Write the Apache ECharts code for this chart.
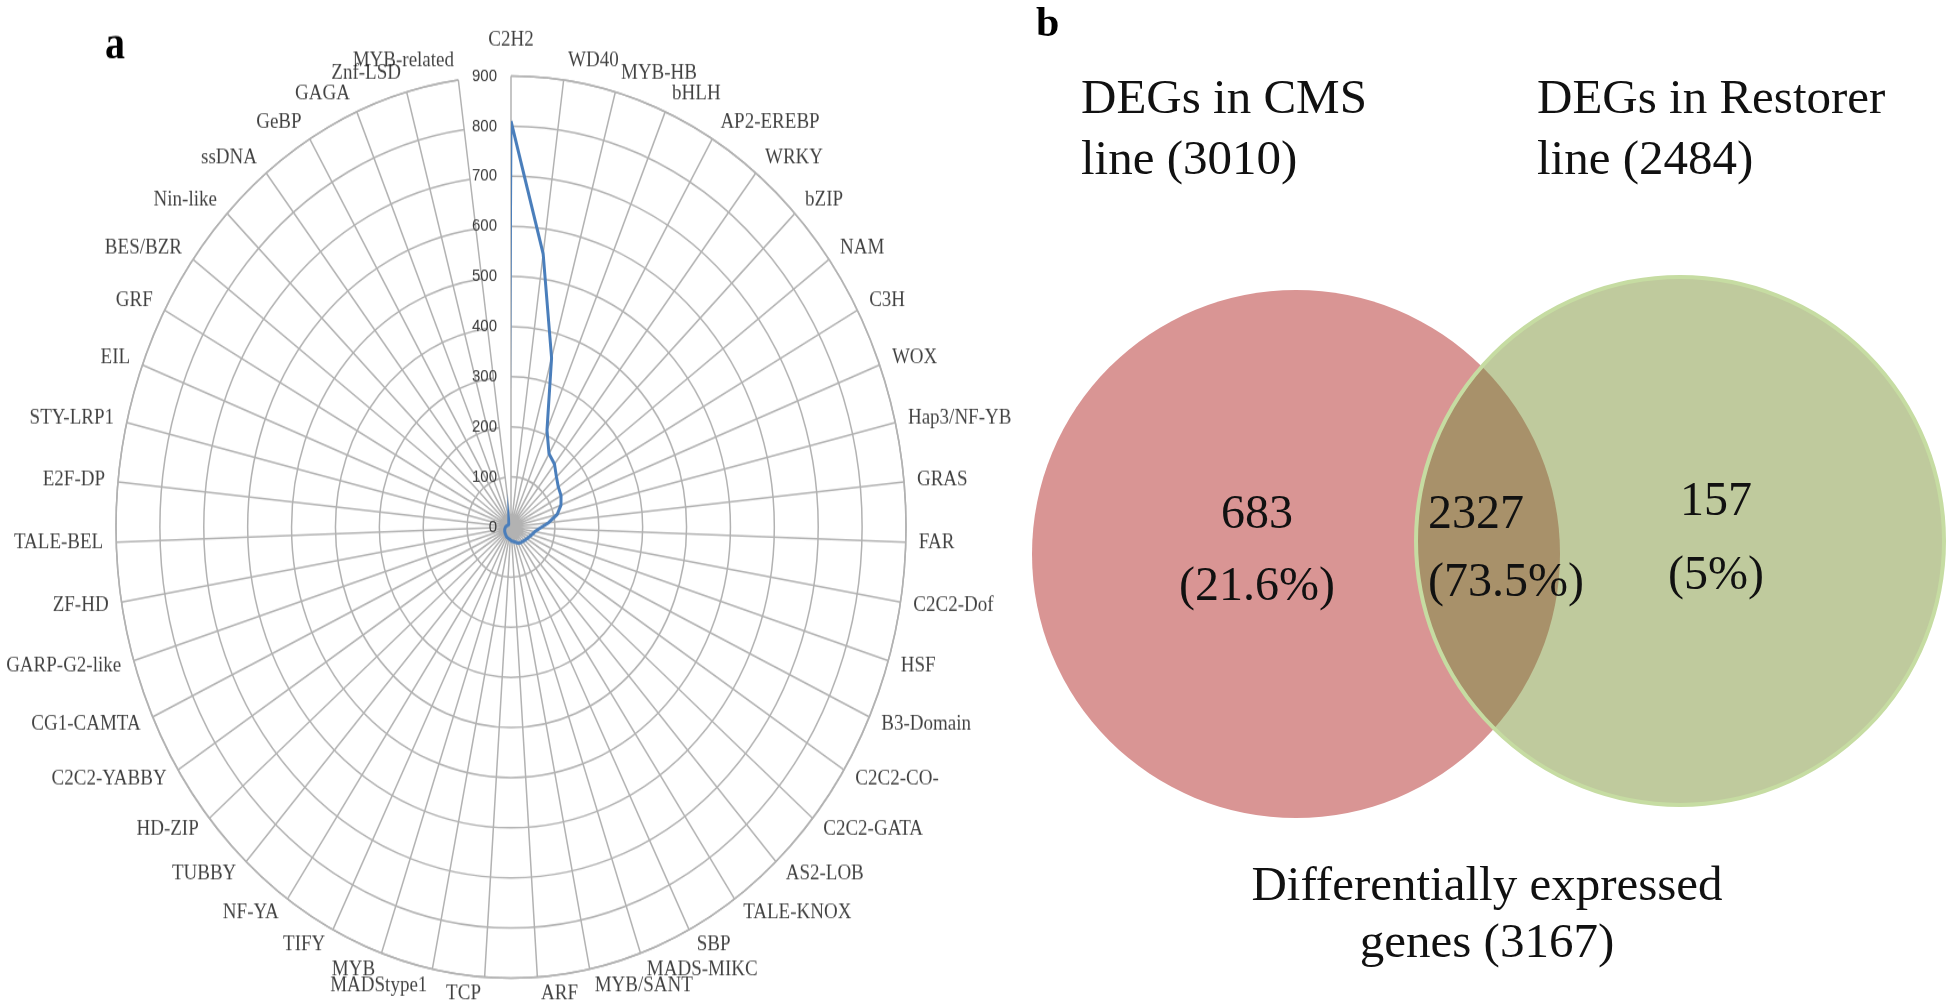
<!DOCTYPE html>
<html>
<head>
<meta charset="utf-8">
<title>TF families and DEG overlap</title>
<script src="https://cdn.jsdelivr.net/npm/echarts@6/dist/echarts.min.js"></script>
<style>
  html, body { margin: 0; padding: 0; background: #fff; }
  body { width: 1946px; height: 1005px; position: relative; overflow: hidden; }
  /* the original radar is stretched vertically, so the whole panel is */
  #radar { position: absolute; left: 0; top: 0; width: 1040px; height: 880px; transform: scaleY(1.142); transform-origin: 0 0; }
  #venn { position: absolute; left: 1000px; top: 0; width: 946px; height: 1005px; }
</style>
</head>
<body>
<div id="venn"></div>
<div id="radar"></div>
<script>
// panel a - TF families, clockwise from the top
var families = [
  'C2H2', 'WD40', 'MYB-HB', 'bHLH', 'AP2-EREBP', 'WRKY', 'bZIP', 'NAM', 'C3H', 'WOX',
  'Hap3/NF-YB', 'GRAS', 'FAR', 'C2C2-Dof', 'HSF', 'B3-Domain', 'C2C2-CO-', 'C2C2-GATA',
  'AS2-LOB', 'TALE-KNOX', 'SBP', 'MADS-MIKC', 'MYB/SANT', 'ARF', 'TCP', 'MADStype1', 'MYB',
  'TIFY', 'NF-YA', 'TUBBY', 'HD-ZIP', 'C2C2-YABBY', 'CG1-CAMTA', 'GARP-G2-like', 'ZF-HD',
  'TALE-BEL', 'E2F-DP', 'STY-LRP1', 'EIL', 'GRF', 'BES/BZR', 'Nin-like', 'ssDNA', 'GeBP',
  'GAGA', 'Znf-LSD', 'MYB-related'
];
var familyCounts = [
  810, 550, 350, 210, 170, 160, 144, 134, 130, 122,
  108, 86, 66, 55, 50, 46, 43, 41,
  39, 38, 36, 32, 30, 28, 25, 24, 23,
  22, 20, 19, 18, 17, 16, 15, 14,
  13, 12, 11, 10, 9, 8, 7, 6, 5,
  4, 3, 2
];
var radiusMax = 900;
var radiusStep = 100;

// panel b - venn
var setNames = ['DEGs in CMS\nline', 'DEGs in Restorer\nline'];
var setTotals = [3010, 2484];
var regionCounts = [683, 2327, 157];        // CMS only, shared, Restorer only
var regionShares = ['21.6%', '73.5%', '5%'];
var unionName = 'Differentially expressed\ngenes';
var unionTotal = 3167;

var gridGray = '#b2b2b2';

// category labels placed like the spreadsheet did: beside the spoke end, not centred on it
function familyLabelItem(name, k) {
  var t = k * 2 * Math.PI / families.length;
  var s = Math.sin(t), c = Math.cos(t);
  var onTop = Math.abs(s) < 0.05;
  var align = onTop ? 'center' : (s > 0 ? 'left' : 'right');
  var dx = onTop ? 0 : (s > 0 ? 1 : -1) * (3 + 10 * Math.abs(s));
  var dy = c > 0 ? -17.5 * c : -14.9 * c;
  if (onTop && c > 0) dy = -31;
  return {
    value: [radiusMax, name],
    label: { align: align, verticalAlign: 'middle', offset: [dx, dy] }
  };
}

var radarChart = echarts.init(document.getElementById('radar'));
var linePoints = families.map(function (f, i) { return [familyCounts[i], f]; });
linePoints.push([familyCounts[0], families[0]]);

radarChart.setOption({
  animation: false,
  polar: { center: [511, 461.5], radius: 395 },
  angleAxis: {
    type: 'category',
    data: families,
    startAngle: 90,
    clockwise: true,
    boundaryGap: false,
    axisLine: { lineStyle: { color: gridGray, width: 1.5 } },
    axisTick: { show: false, interval: 0 },
    axisLabel: { show: false, interval: 0 },
    splitLine: { show: true, interval: 0, lineStyle: { color: gridGray, width: 1.5 } }
  },
  radiusAxis: {
    type: 'value',
    min: 0,
    max: radiusMax,
    interval: radiusStep,
    axisLine: { show: false },
    axisTick: { show: false },
    axisLabel: { margin: 14, fontFamily: 'Liberation Sans', fontSize: 15, color: '#3a3a3a' },
    splitLine: { show: true, lineStyle: { color: gridGray, width: 1.5 } }
  },
  series: [
    {
      type: 'line',
      coordinateSystem: 'polar',
      data: linePoints,
      symbol: 'none',
      z: 5,
      lineStyle: { color: '#4A7EBB', width: 3 }
    },
    {
      // family names at the rim
      type: 'scatter',
      coordinateSystem: 'polar',
      silent: true,
      symbolSize: 1,
      itemStyle: { color: 'rgba(0,0,0,0)' },
      label: {
        show: true,
        position: 'inside',
        formatter: function (p) { return p.value[1]; },
        fontFamily: 'Liberation Serif',
        fontSize: 19,
        color: '#111'
      },
      data: families.map(familyLabelItem)
    }
  ],
  graphic: [{
    type: 'text', x: 105, y: 41,
    style: { text: 'a', font: 'bold 40px "Liberation Serif"', fill: '#000', verticalAlign: 'middle' }
  }]
});

// venn layout in pixels of the right panel (drawing only, not data)
var vennCircles = [
  { cx: 296, cy: 554, r: 264 },
  { cx: 680, cy: 541, r: 264 }
];
var vennLabelPos = [
  { x: 257, y: 551, align: 'center', lh: 72 },
  { x: 428, y: 549, align: 'left', lh: 68 },
  { x: 716, y: 539, align: 'center', lh: 74 }
];

function renderRegion(params, api) {
  var idx = params.dataIndex;
  function circ(c) {
    var p = api.coord([c.cx, c.cy]);
    return { cx: p[0], cy: p[1], r: api.size([c.r, 0])[0] };
  }
  var ca = circ(vennCircles[0]);
  var cb = circ(vennCircles[1]);
  var lab = vennLabelPos[idx];
  var lp = api.coord([lab.x, lab.y]);
  var children = [];
  if (idx === 0) {
    children.push({ type: 'circle', z2: 1, shape: ca, style: { fill: '#D99594' } });
  } else if (idx === 2) {
    children.push({ type: 'circle', z2: 2, shape: cb, style: { fill: '#BFCA9D' } });
  } else {
    children.push({ type: 'circle', z2: 3, shape: ca, style: { fill: '#A8916A' }, clipPath: { type: 'circle', shape: cb } });
    children.push({ type: 'circle', z2: 4, shape: cb, style: { fill: null, stroke: '#C6DCA2', lineWidth: 4 } });
  }
  children.push({
    type: 'text', z2: 10, x: lp[0], y: lp[1],
    style: {
      text: api.value(1) + '\n(' + regionShares[idx] + ')',
      fill: '#111', font: '48px "Liberation Serif"',
      align: lab.align, verticalAlign: 'middle', lineHeight: lab.lh
    }
  });
  return { type: 'group', children: children };
}

var vennChart = echarts.init(document.getElementById('venn'));
var titleFont = '49px "Liberation Serif"';
vennChart.setOption({
  animation: false,
  grid: { left: 0, right: 0, top: 0, bottom: 0 },
  xAxis: { type: 'value', min: 0, max: 946, show: false },
  yAxis: { type: 'value', min: 0, max: 1005, inverse: true, show: false },
  series: [{
    type: 'custom',
    renderItem: renderRegion,
    data: regionCounts.map(function (v, i) { return [i, v]; })
  }],
  graphic: [
    { type: 'text', x: 36, y: 25, style: { text: 'b', font: 'bold 42px "Liberation Serif"', fill: '#000', verticalAlign: 'middle' } },
    { type: 'text', x: 81, y: 131, style: { text: setNames[0] + ' (' + setTotals[0] + ')', font: titleFont, fill: '#111', lineHeight: 61, verticalAlign: 'middle' } },
    { type: 'text', x: 537, y: 131, style: { text: setNames[1] + ' (' + setTotals[1] + ')', font: titleFont, fill: '#111', lineHeight: 61, verticalAlign: 'middle' } },
    { type: 'text', x: 487, y: 916, style: { text: unionName + ' (' + unionTotal + ')', font: titleFont, fill: '#111', lineHeight: 57, align: 'center', verticalAlign: 'middle' } }
  ]
});
</script>
</body>
</html>
